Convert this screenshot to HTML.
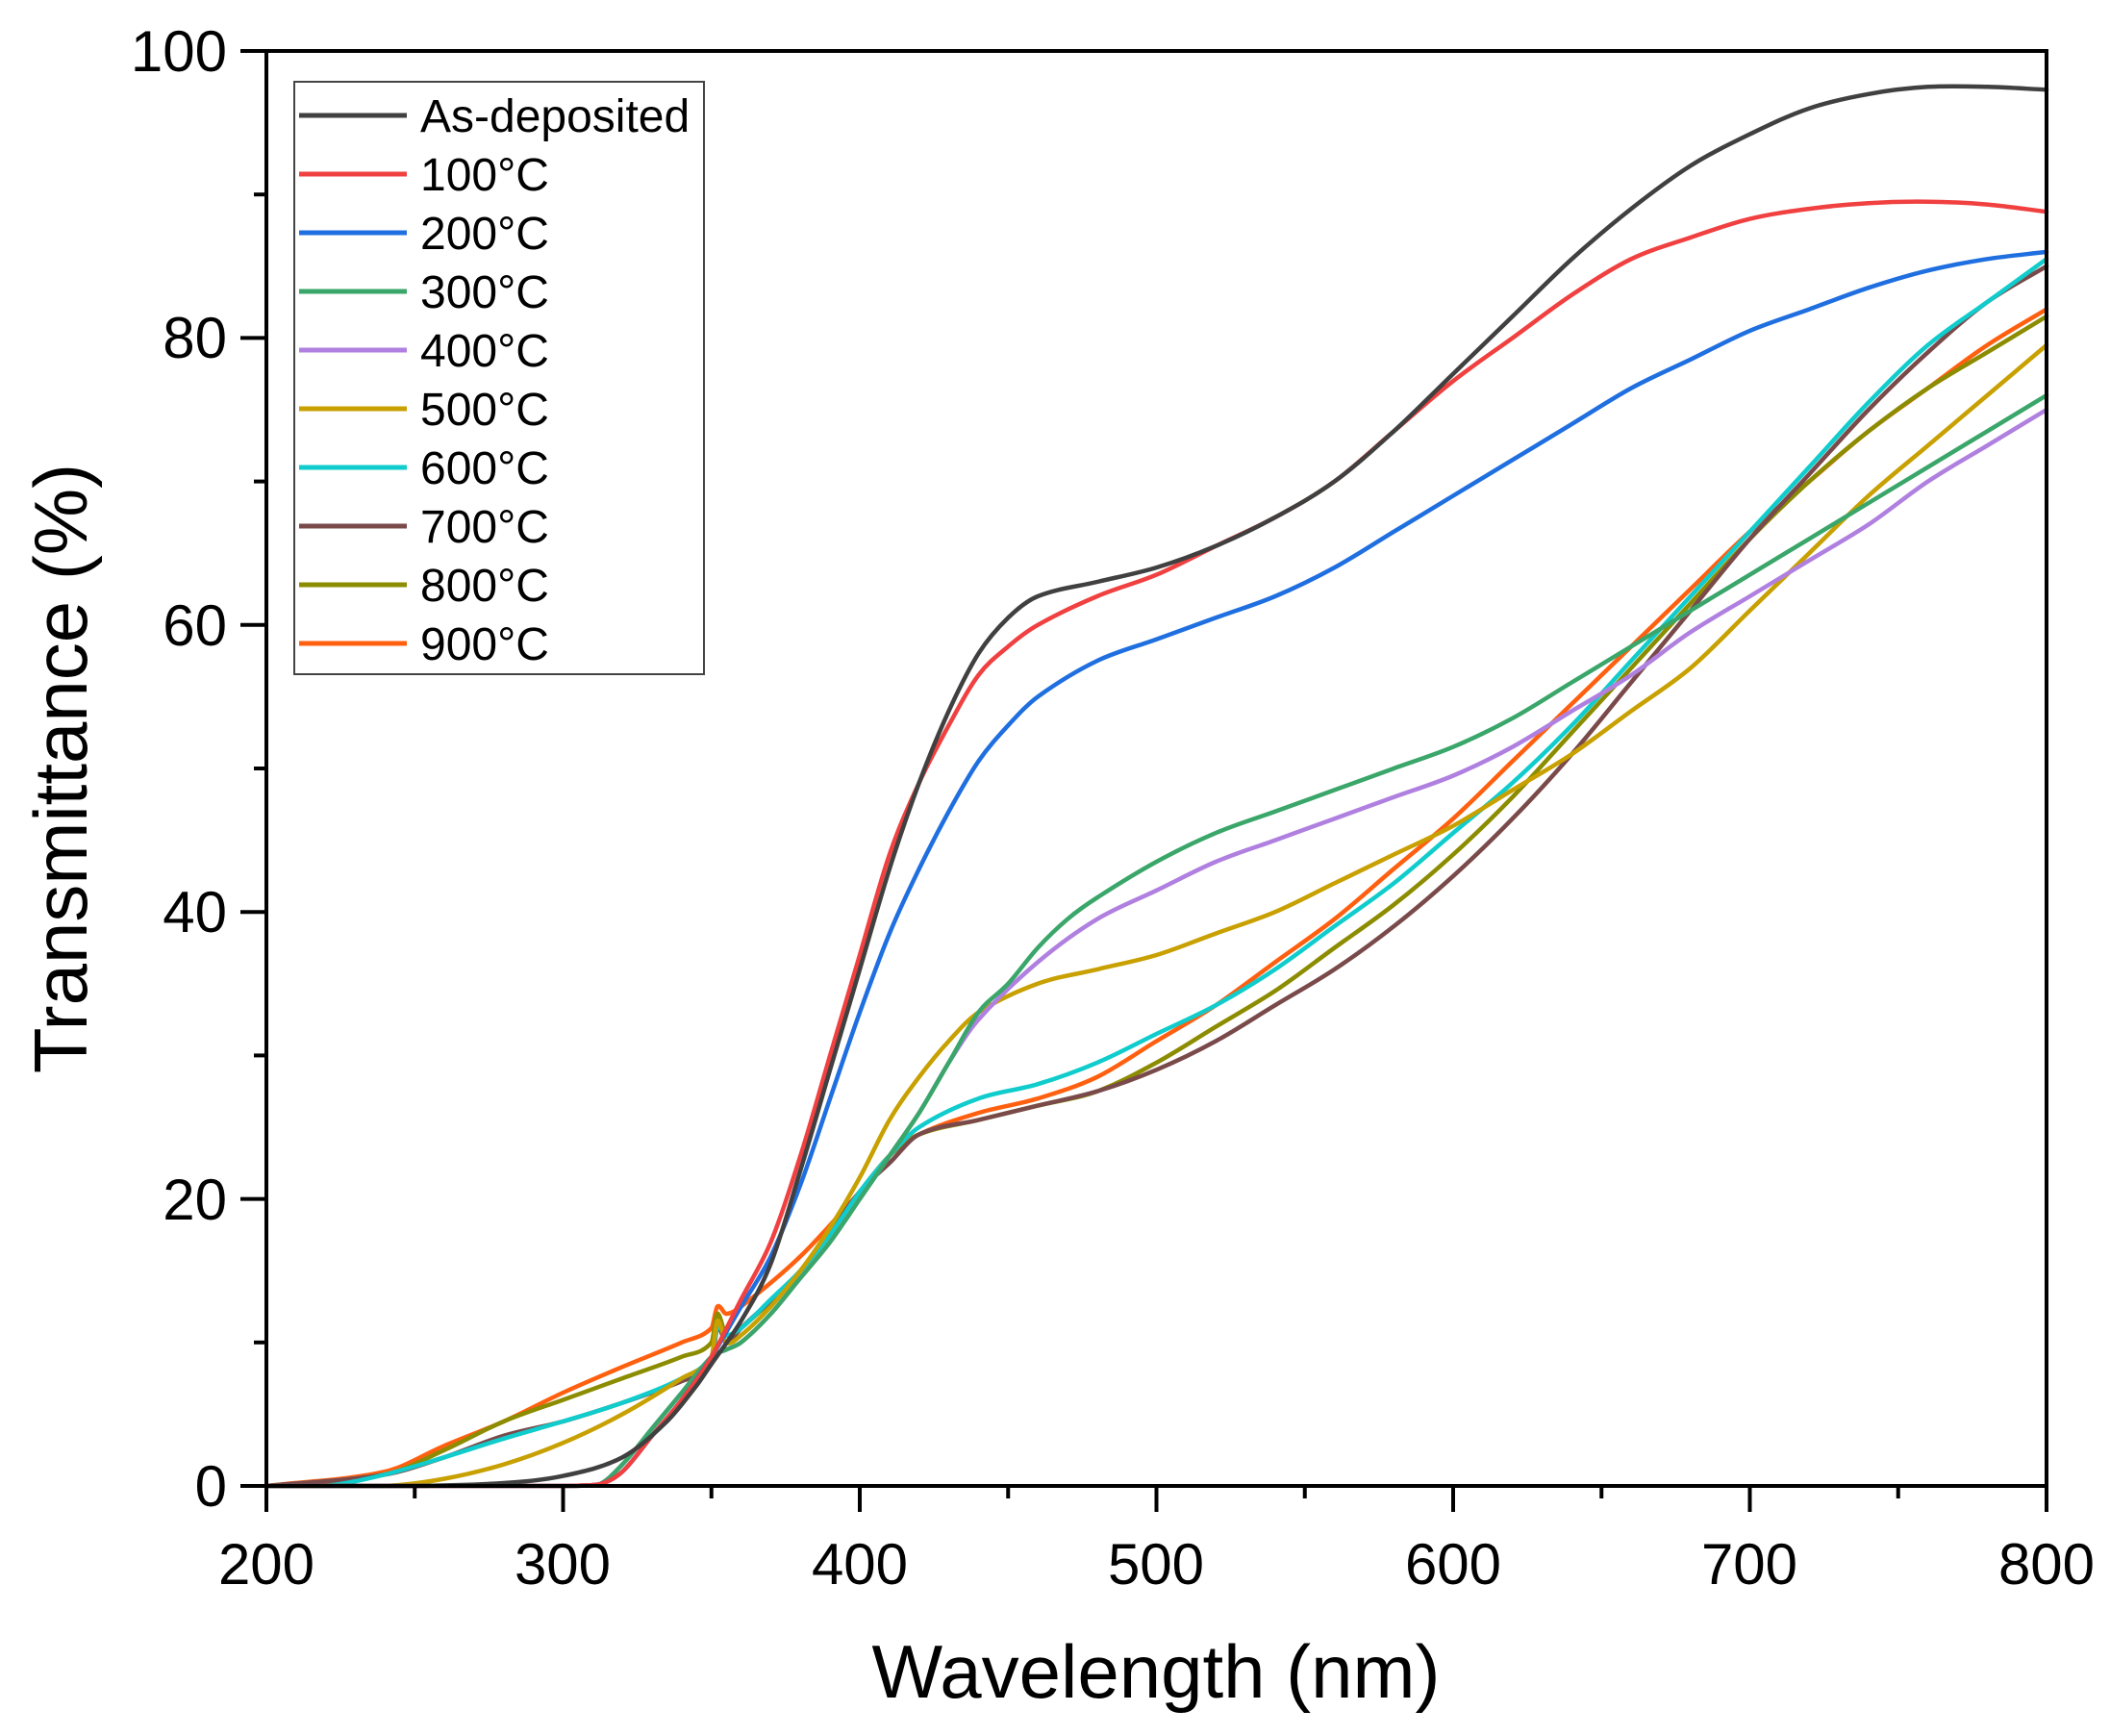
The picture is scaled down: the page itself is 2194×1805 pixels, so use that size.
<!DOCTYPE html>
<html><head><meta charset="utf-8"><style>
html,body{margin:0;padding:0;background:#fff;}
svg{display:block;font-family:"Liberation Sans",Arial,sans-serif;}
</style></head><body>
<svg id="s" width="2194" height="1805" viewBox="0 0 2194 1805" xmlns="http://www.w3.org/2000/svg">
<rect width="2194" height="1805" fill="#fff"/>
<g id="curves" fill="none" stroke-width="4.5" stroke-linejoin="round" stroke-linecap="round"></g>
<g stroke="#000" stroke-width="4" fill="none">
<rect x="277" y="53" width="1851" height="1492"/>
<g id="ticks"></g>
</g>
<g font-size="60" fill="#000" text-anchor="end">
<text x="236" y="1566">0</text>
<text x="236" y="1268">20</text>
<text x="236" y="969">40</text>
<text x="236" y="671">60</text>
<text x="236" y="372">80</text>
<text x="236" y="74">100</text>
</g>
<g font-size="60" fill="#000" text-anchor="middle">
<text x="277" y="1647">200</text>
<text x="585" y="1647">300</text>
<text x="894" y="1647">400</text>
<text x="1202" y="1647">500</text>
<text x="1511" y="1647">600</text>
<text x="1819" y="1647">700</text>
<text x="2128" y="1647">800</text>
</g>
<text x="1202" y="1765" font-size="78" text-anchor="middle">Wavelength (nm)</text>
<text transform="translate(90,799) rotate(-90)" font-size="78" text-anchor="middle">Transmittance (%)</text>
<rect x="306" y="85" width="426" height="616" fill="#fff" stroke="#444" stroke-width="2"/>
<g id="legend" font-size="48"></g>
</svg>
<script>
const X=n=>277+(n-200)*1851/600, Y=v=>1545-v*14.92;
const D=[
["As-deposited","#404040",[[200,0],[250,0],[280,0.2],[300,0.7],[320,2],[335,4.5],[345,7],[350,8.5],[360,11.5],[370,15.5],[380,22],[390,29],[400,36],[410,43],[420,49],[430,54],[440,58],[450,60.5],[460,62],[480,63],[500,64],[520,65.5],[540,67.5],[560,70],[580,73.5],[600,77.5],[620,81.5],[640,85.5],[660,89],[680,92],[700,94.2],[720,96],[740,97],[760,97.5],[780,97.5],[800,97.3]]],
["100°C","#f04040",[[200,0],[300,0],[312,0.1],[320,1],[330,3.5],[340,6],[350,9],[360,13],[370,17],[380,23],[390,30],[400,37],[410,44],[420,49],[430,53],[440,56.5],[450,58.5],[460,60],[480,62],[500,63.5],[520,65.5],[540,67.5],[560,70],[580,73.5],[600,77],[620,80],[640,83],[660,85.5],[680,87],[700,88.3],[720,89],[740,89.4],[760,89.5],[780,89.3],[800,88.8]]],
["200°C","#1f6fe0",[[200,0],[300,0],[312,0.1],[320,1],[330,3.5],[340,6],[350,9],[360,12.5],[370,16],[380,21],[390,27],[400,33],[410,38.5],[420,43],[430,47],[440,50.5],[450,53],[460,55],[480,57.5],[500,59],[520,60.5],[540,62],[560,64],[580,66.5],[600,69],[620,71.5],[640,74],[660,76.5],[680,78.5],[700,80.5],[720,82],[740,83.5],[760,84.7],[780,85.5],[800,86]]],
["300°C","#3aa66a",[[200,0],[300,0],[312,0.1],[320,1.5],[330,4],[340,6.5],[350,9],[355,9.5],[360,10],[370,12],[380,14.5],[390,17],[400,20],[410,23],[420,26],[430,29.5],[440,33],[450,35],[460,37.5],[470,39.5],[480,41],[500,43.5],[520,45.5],[540,47],[560,48.5],[580,50],[600,51.5],[620,53.5],[640,56],[660,58.5],[680,61],[700,63.5],[720,66],[740,68.5],[760,71],[780,73.5],[800,76]]],
["400°C","#b080e0",[[200,0],[300,0],[312,0.1],[320,1.5],[330,4],[340,6.5],[350,9],[355,9.5],[360,10],[370,12],[380,14.5],[390,17],[400,20],[410,23],[420,26],[430,29.5],[440,32.5],[460,36.5],[480,39.5],[500,41.5],[520,43.5],[540,45],[560,46.5],[580,48],[600,49.5],[620,51.5],[640,54],[660,56.5],[680,59.5],[700,62],[720,64.5],[740,67],[760,70],[780,72.5],[800,75]]],
["500°C","#c8a000",[[200,0],[240,0],[260,0.5],[280,1.5],[300,3],[320,5],[340,7.5],[350,9],[352,11.5],[355,10],[360,10.5],[370,12.5],[380,15],[390,18],[400,21.5],[410,25.5],[420,28.5],[430,31],[440,33],[460,35],[480,36],[500,37],[520,38.5],[540,40],[560,42],[580,44],[600,46],[620,48.5],[640,51],[660,54],[680,57],[700,61],[720,65],[740,69],[760,72.5],[780,76],[800,79.5]]],
["600°C","#10cccc",[[200,0],[220,0],[240,0.8],[260,2],[280,3.3],[300,4.5],[320,5.8],[340,7.5],[350,9],[352,11],[355,10.5],[360,11],[370,13],[380,15],[390,17.5],[400,20.5],[410,23],[420,25],[440,27],[460,28],[480,29.5],[500,31.5],[520,33.5],[540,36],[560,39],[580,42],[600,45.5],[620,49],[640,53],[660,57.5],[680,62],[700,66.5],[720,71],[740,75.5],[760,79.5],[780,82.5],[800,85.5]]],
["700°C","#7a4a4a",[[200,0],[240,0.8],[260,2],[280,3.5],[300,4.5],[320,5.8],[340,7.3],[350,8.5],[352,11],[355,10],[360,11],[380,15],[400,20.5],[410,22.5],[420,24.5],[440,25.5],[460,26.5],[480,27.5],[500,29],[520,31],[540,33.5],[560,36],[580,39],[600,42.5],[620,46.5],[640,51],[660,56],[680,61],[700,66],[720,70.5],[740,75],[760,79],[780,82.5],[800,85]]],
["800°C","#8c8c00",[[200,0],[240,0.8],[260,2.5],[280,4.5],[300,6],[320,7.5],[340,9],[350,10],[352,12],[355,10.5],[360,11],[380,15],[400,20.5],[410,23],[420,24.5],[440,25.5],[460,26.5],[480,27.5],[500,29.5],[520,32],[540,34.5],[560,37.5],[580,40.5],[600,44],[620,48],[640,52.5],[660,57],[680,61.5],[700,66],[720,70],[740,73.5],[760,76.5],[780,79],[800,81.5]]],
["900°C","#ff6010",[[200,0],[240,1],[260,2.8],[280,4.5],[300,6.5],[320,8.3],[340,10],[350,11],[352,12.5],[355,12],[360,12.5],[380,16],[400,20.5],[410,23],[420,24.5],[440,26],[460,27],[480,28.5],[500,31],[520,33.5],[540,36.5],[560,39.5],[580,43],[600,46.5],[620,50.5],[640,54.5],[660,58.5],[680,62.5],[700,66.5],[720,70],[740,73.5],[760,76.5],[780,79.5],[800,82]]]
];
const NS="http://www.w3.org/2000/svg";
const cg=document.getElementById("curves"),lg=document.getElementById("legend"),tg=document.getElementById("ticks");
function mk(t,a,p){const e=document.createElementNS(NS,t);for(const k in a)e.setAttribute(k,a[k]);p.appendChild(e);return e;}
function path(pts){
 const P=pts.map(p=>[X(p[0]),Y(p[1])]);let d="M"+P[0][0].toFixed(1)+","+P[0][1].toFixed(1);
 for(let i=0;i<P.length-1;i++){const p0=P[Math.max(0,i-1)],p1=P[i],p2=P[i+1],p3=P[Math.min(P.length-1,i+2)];
  const k1=(p2[0]-p1[0])/Math.max(1,(p2[0]-p0[0])), k2=(p2[0]-p1[0])/Math.max(1,(p3[0]-p1[0]));
  const c1=[p1[0]+(p2[0]-p0[0])*k1/3,p1[1]+(p2[1]-p0[1])*k1/3],c2=[p2[0]-(p3[0]-p1[0])*k2/3,p2[1]-(p3[1]-p1[1])*k2/3];
  c1[1]=Math.min(c1[1],1545);c2[1]=Math.min(c2[1],1545);
  d+=" C"+c1.map(v=>v.toFixed(1))+" "+c2.map(v=>v.toFixed(1))+" "+p2.map(v=>v.toFixed(1));}
 return d;}
for(let i=D.length-1;i>=0;i--) mk("path",{d:path(D[i][2]),stroke:D[i][1]},cg);
D.forEach((s,i)=>{const y=120+i*61;
 mk("line",{x1:311,x2:423,y1:y,y2:y,stroke:s[1],"stroke-width":5},lg);
 const t=mk("text",{x:437,y:y+17},lg);t.textContent=s[0];});
for(let v=0;v<=100;v+=10){const y=Y(v);mk("line",{x1:277,x2:v%20?264:250,y1:y,y2:y},tg);}
for(let n=200;n<=800;n+=50){const x=X(n);mk("line",{x1:x,x2:x,y1:1545,y2:n%100?1558:1572},tg);}
</script>
</body></html>
